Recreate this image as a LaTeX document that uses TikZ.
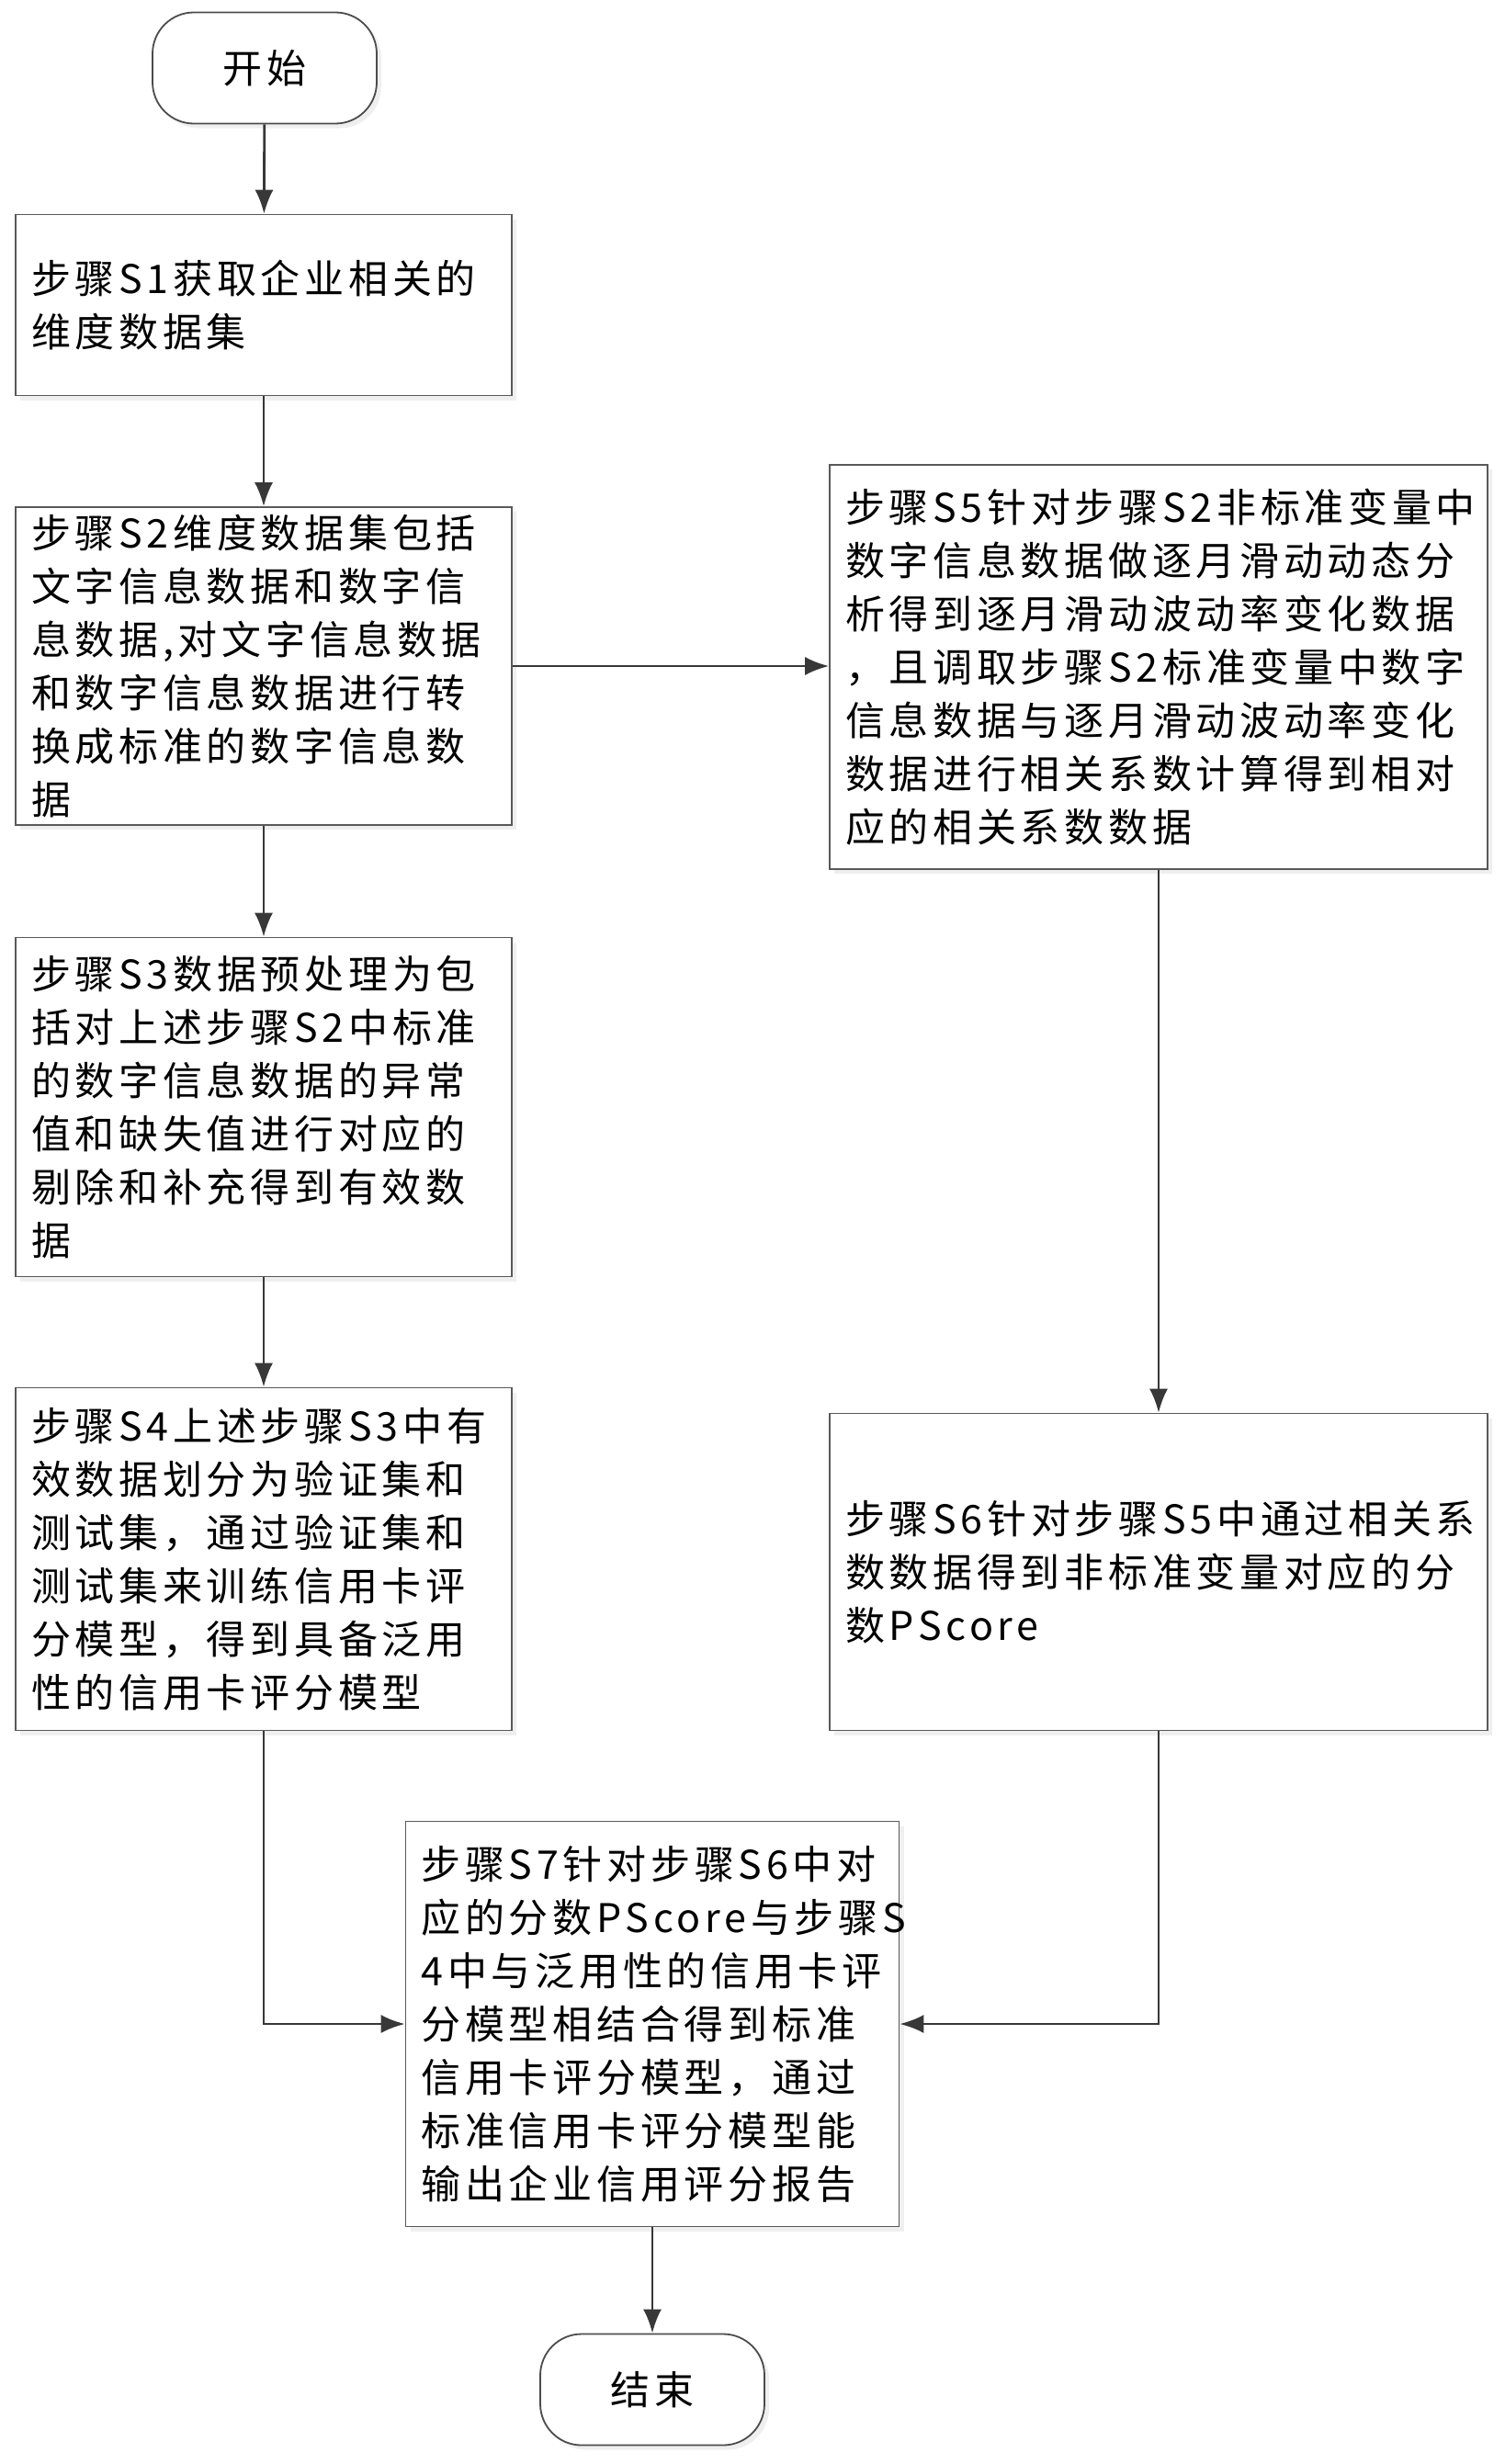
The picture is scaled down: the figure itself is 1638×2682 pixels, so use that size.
\documentclass[tikz,border=0pt]{standalone}
\usepackage{fontspec}
\setmainfont{Noto Sans CJK SC}[LetterSpace=11]
\usepackage{tikz}
\usetikzlibrary{positioning,calc,arrows.meta,shadows}

\tikzset{
  stepbox/.style={draw=black!65,line width=1.6pt,fill=white,
    drop shadow={shadow xshift=5pt,shadow yshift=-5pt,fill=black!12},
    align=left,inner xsep=17pt,inner ysep=0pt,
    font=\fontsize{43}{58}\selectfont},
  termbox/.style={draw=black!70,line width=1.8pt,fill=white,rounded corners=45pt,
    drop shadow={shadow xshift=5pt,shadow yshift=-5pt,fill=black!12},
    minimum width=244pt,minimum height=121pt,
    font=\fontsize{43}{58}\selectfont},
  flow/.style={draw=black!78,line width=2.8pt,-{Latex[length=26pt,width=20pt]}}
}

\begin{document}
\begin{tikzpicture}[x=1pt,y=-1pt]
  \useasboundingbox (0,0) rectangle (1638,2682);

  % left column
  \node[termbox] (start) at (288,74) {开始};
  \node[stepbox,text width=506pt,minimum height=197pt] (s1) at (287,332)
    {步骤S1获取企业相关的\\维度数据集};
  \node[stepbox,text width=506pt,minimum height=346pt] (s2) at (287,725)
    {步骤S2维度数据集包括\\文字信息数据和数字信\\息数据,对文字信息数据\\和数字信息数据进行转\\换成标准的数字信息数\\据};
  \node[stepbox,text width=506pt,minimum height=369pt] (s3) at (287,1205)
    {步骤S3数据预处理为包\\括对上述步骤S2中标准\\的数字信息数据的异常\\值和缺失值进行对应的\\剔除和补充得到有效数\\据};
  \node[stepbox,text width=506pt,minimum height=373pt] (s4) at (287,1697)
    {步骤S4上述步骤S3中有\\效数据划分为验证集和\\测试集，通过验证集和\\测试集来训练信用卡评\\分模型，得到具备泛用\\性的信用卡评分模型};

  % right column
  \node[stepbox,text width=682pt,minimum height=440pt] (s5) at (1261,726)
    {步骤S5针对步骤S2非标准变量中\\数字信息数据做逐月滑动动态分\\析得到逐月滑动波动率变化数据\\，且调取步骤S2标准变量中数字\\信息数据与逐月滑动波动率变化\\数据进行相关系数计算得到相对\\应的相关系数数据};
  \node[stepbox,text width=682pt,minimum height=345pt] (s6) at (1261,1711)
    {步骤S6针对步骤S5中通过相关系\\数数据得到非标准变量对应的分\\数PScore};

  % merge and end
  \node[stepbox,text width=503pt,minimum height=441pt] (s7) at (710,2203)
    {步骤S7针对步骤S6中对\\应的分数PScore与步骤S\\4中与泛用性的信用卡评\\分模型相结合得到标准\\信用卡评分模型，通过\\标准信用卡评分模型能\\输出企业信用评分报告};
  \node[termbox] (end) at (710,2601) {结束};

  \draw[flow] (start) -- (s1);
  \draw[flow] (s1) -- (s2);
  \draw[flow] (s2) -- (s3);
  \draw[flow] (s3) -- (s4);
  \draw[flow] (s2.east) -- (s2.east -| s5.west);
  \draw[flow] (s5) -- (s6);
  \draw[flow] (s4.south) |- (s7.west);
  \draw[flow] (s6.south) |- (s7.east);
  \draw[flow] (s7) -- (end);
\end{tikzpicture}
\end{document}
